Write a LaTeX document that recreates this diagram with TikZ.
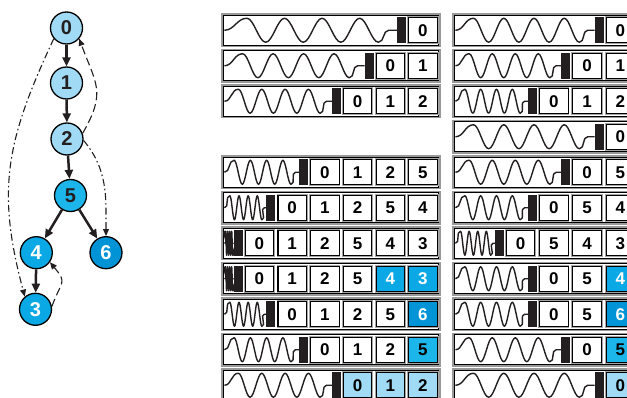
\documentclass[tikz,border=0pt]{standalone}
\usepackage{fontspec}
\setmainfont{Liberation Sans}
\usetikzlibrary{positioning, arrows.meta}

\definecolor{lightblue}{RGB}{160,218,244}
\definecolor{midblue}{RGB}{28,182,235}
\definecolor{deepblue}{RGB}{10,168,228}
\definecolor{darkblue}{RGB}{0,148,214}
\definecolor{barblack}{RGB}{35,31,32}

\newcommand{\amp}{12}
\newcommand{\pitch}{32.7}

% spring: from x #1 to x #2 around height #3
\newcommand{\sprung}[3]{%
  \pgfmathsetmacro\q{((#2)-(#1))/18.4}
  \draw[spring] (#1,#3) to[out=0,in=180] ++(2.4*\q,\amp)
    \foreach \k in {1,2,3} {cos ++(\q,-\amp) sin ++(\q,-\amp) cos ++(\q,\amp) sin ++(\q,\amp)}
    cos ++(\q,-\amp) sin ++(\q,-\amp)
    to[out=0,in=180] ++(1.1*\q,\amp) -- ++(0.9*\q,0);
}

% one stack row: name, left x, top y (pixels down), free slots at right, cells
\newcommand{\stackrow}[5]{%
  \pgfmathsetmacro\rowR{#2+215.7}
  \foreach \l/\f/\t [count=\k] in {#5} {\xdef\ncells{\k}}
  \draw[rowouter] (#2,-#3) rectangle ++(218,-32.5);
  \draw[rowinner] (#2+1.3,-#3-1.3) rectangle ++(215.4,-29.9);
  \foreach \l/\f/\t [count=\i] in {#5} {
    \pgfmathsetmacro\cx{\rowR-(\ncells-\i+1+#4)*\pitch+3.2+14.75}
    \node[cell, fill=\f, text=\t] (#1-\i) at (\cx,-#3-16.25) {\l};
  }
  \pgfmathsetmacro\barR{\rowR-(\ncells+#4)*\pitch+3.2-2}
  \fill[barblack] (\barR-9,-#3-3.3) rectangle (\barR,-#3-29.3);
  \sprung{#2+2.4}{\barR-9}{-#3-16.25}
}

\begin{document}
\begin{tikzpicture}[x=1pt, y=1pt,
    vert/.style={circle, draw=black, line width=1.3pt, minimum size=32pt, inner sep=0pt,
      text=barblack, font=\fontsize{20}{20}\selectfont\bfseries},
    tree/.style={line width=2.5pt, draw=barblack, -{Triangle[length=9pt, width=8pt]}},
    back/.style={line width=1.1pt, draw=barblack, dash pattern=on 8pt off 4pt, -{Triangle[length=7pt, width=6pt]}},
    cross/.style={line width=1.1pt, draw=barblack, dash pattern=on 7pt off 3pt on 1.5pt off 3pt, -{Triangle[length=7pt, width=6pt]}},
    spring/.style={line width=1.4pt, draw=barblack, line join=round},
    rowouter/.style={draw=gray!80, line width=1.1pt, fill=white},
    rowinner/.style={draw=black, line width=0.9pt},
    cell/.style={draw=black, line width=1.1pt, minimum width=28.4pt, minimum height=24.9pt,
      inner sep=0pt, font=\fontsize{17}{17}\selectfont\bfseries,
      preaction={draw=gray!70, line width=2.8pt}}]
  \useasboundingbox (0,0) rectangle (627,-398);
  \clip (0,0) rectangle (627,-398);

  % the graph
  \node[vert, fill=lightblue] (n0) at (66.5,-28) {0};
  \node[vert, fill=lightblue] (n1) at (66.5,-83) {1};
  \node[vert, fill=lightblue] (n2) at (67,-139) {2};
  \node[vert, fill=midblue] (n5) at (70.5,-195.5) {5};
  \node[vert, fill=deepblue, text=white] (n4) at (36.3,-252.7) {4};
  \node[vert, fill=darkblue, text=white] (n6) at (106,-252.7) {6};
  \node[vert, fill=deepblue, text=white] (n3) at (35.5,-309.3) {3};

  \draw[tree] (n0) -- (n1);
  \draw[tree] (n1) -- (n2);
  \draw[tree] (n2) -- (n5);
  \draw[tree] (n5) -- (n4);
  \draw[tree] (n5) -- (n6);
  \draw[tree] (n4) -- (n3);
  \draw[back] (n2.20) to[out=60, in=-70, looseness=1.3] (n0.-40);
  \draw[back] (n3.10) to[out=70, in=-50, looseness=1.6] (n4.-35);
  \draw[cross] (n0.-140) to[out=-115, in=105, looseness=1.1] (n3.130);
  \draw[cross] (n2.-5) to[out=-50, in=90] (n6.north);

  % left column of stacks
  \stackrow{a1}{222}{14}{0}{0/white/black}
  \stackrow{a2}{222}{49.5}{0}{0/white/black, 1/white/black}
  \stackrow{a3}{222}{85}{0}{0/white/black, 1/white/black, 2/white/black}
  \stackrow{a5}{222}{156}{0}{0/white/black, 1/white/black, 2/white/black, 5/white/black}
  \stackrow{a6}{222}{191.5}{0}{0/white/black, 1/white/black, 2/white/black, 5/white/black, 4/white/black}
  \stackrow{a7}{222}{227}{0}{0/white/black, 1/white/black, 2/white/black, 5/white/black, 4/white/black, 3/white/black}
  \stackrow{a8}{222}{262.5}{0}{0/white/black, 1/white/black, 2/white/black, 5/white/black, 4/deepblue/white, 3/deepblue/white}
  \stackrow{a9}{222}{298}{0}{0/white/black, 1/white/black, 2/white/black, 5/white/black, 6/darkblue/white}
  \stackrow{a10}{222}{333.5}{0}{0/white/black, 1/white/black, 2/white/black, 5/midblue/black}
  \stackrow{a11}{222}{369}{0}{0/lightblue/black, 1/lightblue/black, 2/lightblue/black}

  % right column of stacks
  \renewcommand{\pitch}{33.2}
  \stackrow{b1}{453}{14}{1}{0/white/black}
  \stackrow{b2}{453}{49.5}{1}{0/white/black, 1/white/black}
  \stackrow{b3}{453}{85}{1}{0/white/black, 1/white/black, 2/white/black}
  \stackrow{b4}{453}{120.5}{1}{0/white/black}
  \stackrow{b5}{453}{156}{1}{0/white/black, 5/white/black}
  \stackrow{b6}{453}{191.5}{1}{0/white/black, 5/white/black, 4/white/black}
  \stackrow{b7}{453}{227}{1}{0/white/black, 5/white/black, 4/white/black, 3/white/black}
  \stackrow{b8}{453}{262.5}{1}{0/white/black, 5/white/black, 4/deepblue/white}
  \stackrow{b9}{453}{298}{1}{0/white/black, 5/white/black, 6/darkblue/white}
  \stackrow{b10}{453}{333.5}{1}{0/white/black, 5/midblue/black}
  \stackrow{b11}{453}{369}{1}{0/lightblue/black}
\end{tikzpicture}
\end{document}
